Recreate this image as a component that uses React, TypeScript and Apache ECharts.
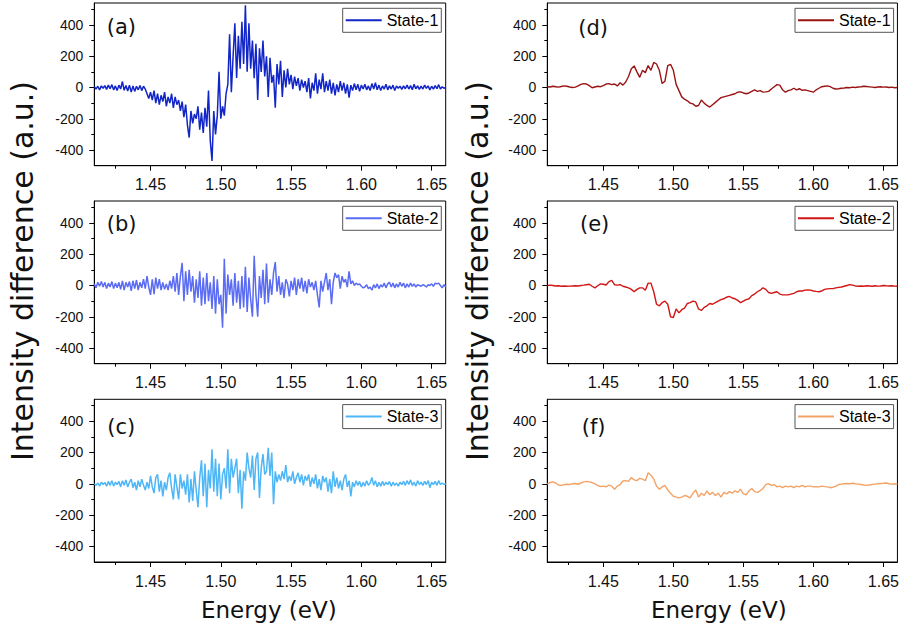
import React, { useEffect, useRef } from "react";
import * as echarts from "echarts";

const E_START = 1.41;
const E_END = 1.66;
const NOISY_STEP = 0.00125;
const SMOOTH_STEP = 0.002;

const xMajor = [1.45, 1.5, 1.55, 1.6, 1.65];
const xMinor = [1.425, 1.475, 1.525, 1.575, 1.625];
const yMajor = [-400, -200, 0, 200, 400];
const yMinor = [-300, -100, 100, 300, 500];

const panelLabels = ["(a)", "(b)", "(c)", "(d)", "(e)", "(f)"];
const legendNames = ["State-1", "State-2", "State-3", "State-1", "State-2", "State-3"];

// Left column: state spectra (noisy)
const stateA = [
  5, -10, 8, -15, 10, -5, 12, -12, 15, -8,
  18, -15, 10, -20, 15, -10, 38, -18, 12, -22,
  15, -30, 10, -25, 8, -15, 12, -20, 8, -10,
  -40, -70, -30, -80, -20, -100, -40, -110, -50, -90,
  -30, -120, -60, -100, -40, -130, -60, -110, -80, -150,
  -90, -190, -110, -240, -320, -150, -230, -170, -200, -120,
  -270, -160, -290, -130, -250, -20, -340, -470, -150, -300,
  -180, 100, -200, -120, -180, -40, 20, 340, -30, 200,
  410, 60, 330, 120, 420, 150, 525, 100, 410, 120,
  300, 60, 280, -80, 250, 100, 300, 70, 200, -60,
  190, 30, 80, -130, 150, 20, 170, -60, 110, 0,
  120, 20, 80, -10, 70, 10, 60, -20, 50, 0,
  40, -30, 60, -70, 30, -20, 90, -40, 50, -10,
  90, -30, 40, -20, 50, -40, 30, -50, 20, -30,
  40, -20, 30, -40, 20, -65, 15, -20, 25, -15,
  20, -25, 15, -10, 20, -15, 10, -20, 25, -10,
  30, -15, 15, -20, 10, -10, 20, -15, 10, -10,
  15, -20, 10, -5, 8, -12, 10, -8, 15, -10,
  12, -15, 20, -8, 10, -12, 8, -10, 15, -5,
  10, -15, 8, -10, 12, -8, 18, -10, 5, -5,
  0,
];

const stateB = [
  10, -15, 20, -5, 25, -10, 20, -20, 15, -10,
  25, -20, 15, -15, 20, -25, 30, -30, 20, -10,
  25, -35, 30, -20, 35, -30, 20, -15, 40, -20,
  60, -10, -60, 40, -55, 50, -20, 40, -30, 20,
  -25, 10, -30, 30, -20, 60, -40, 80, -60, 60,
  145, -100, 90, -60, 100, -40, 60, -110, 40, -80,
  90, -130, 50, -120, 80, -100, 20, -150, 60, -180,
  40, -120, -60, -270, 170, -180, 70, -60, 40, -130,
  80, -110, 30, -150, 60, -140, 120, -170, 50, -90,
  -200, 190, -60, -200, 60, -80, 100, -120, 140, -110,
  40, -60, 80, 150, -40, 60, -60, 20, -80, 40,
  10, -70, 30, -30, 50, -60, 40, -20, 50, -40,
  30, -50, 40, -10, 20, -30, 30, -60, -140, 30,
  -40, 20, 80, -30, 40, -120, 20, 80, 50, 70,
  -20, 60, 20, 40, -10, 90, 10, 30, 0, 15,
  5, 10, -5, -15, -10, 5, -20, -10, -30, 5,
  -15, 10, -20, 5, -10, 15, -15, 10, 20, -10,
  15, -15, 10, -10, 20, -5, 15, -15, 10, -10,
  15, -5, 10, -10, 5, 0, -5, 5, 0, -10,
  5, 0, 10, -5, 15, 10, 15, 0, -15, 5,
  -10,
];

const stateC = [
  0, -10, 5, -15, 10, -5, 8, -15, 15, -10,
  20, -15, 10, -5, 15, -20, 20, -10, 25, -20,
  10, 30, -25, 10, -40, 20, -20, 30, -10, -40,
  10, -30, 50, -20, -60, 40, 60, -50, 20, -80,
  10, -40, 40, 70, -30, -100, 60, -20, -100, 60,
  -30, 20, -70, 60, -120, 30, -110, 80, -40, -150,
  40, 150, -80, 130, -150, 90, -30, 220, -50, 160,
  -80, 130, -100, 60, 100, -30, 220, -60, 160, 40,
  100, 160, -60, 90, -160, 80, 20, 200, 100, 40,
  180, -40, 160, 200, -90, 100, 190, 60, 80, 230,
  50, 200, -130, 80, 10, 60, 20, 80, 30, 120,
  10, 50, 20, 80, 0, 40, 70, 10, 60, -10,
  50, 20, 60, -20, 40, 0, 60, -30, 30, -40,
  50, 10, 40, -50, 30, -60, 80, -20, 40, -30,
  20, -40, 30, 60, -20, 20, -80, 10, -20, 20,
  -10, 15, -20, 10, -15, 20, -10, 5, 40, -10,
  20, -20, 10, -15, 15, -10, 10, -5, 15, -15,
  10, -10, 5, -15, 10, -5, 15, -10, 20, -5,
  25, -10, 10, -15, 20, -5, 10, -10, 15, -5,
  20, -25, 10, -5, 15, -10, 20, -5, 5, -5,
  0,
];

// Right column: smoother spectra
const stateD = [
  5, 3, 8, 5, 2, 6, 10, 8, 3, 0,
  2, 10, 20, 25, 22, 12, -2, 3, 8, 5,
  12, 22, 25, 18, 22, 10, 30, 15, 35, 70,
  120, 138, 100, 65, 110, 95, 140, 110, 160, 150,
  110, 25, 40, 140, 148, 110, 20, -20, -60, -75,
  -85, -100, -105, -120, -115, -80, -100, -115, -125, -110,
  -95, -80, -65, -60, -55, -50, -45, -40, -30, -28,
  -35, -40, -35, -25, -15, -25, -20, -30, -28, -25,
  -10, 5, 18, 15, -15, -30, -20, -15, -5, -15,
  -8, -18, -15, -20, -25, -30, -15, -5, 5, 8,
  10, 5, -5, -10, -8, -5, -3, 0, -2, 2,
  0, 3, 5, 8, 6, 4, 2, 0, 3, 5,
  2, 3, 0, 2, -2, 0,
];

const stateE = [
  0, 2, 0, -3, -2, -5, -3, -5, -4, -3,
  -2, -3, 0, 2, 5, 8, -5, -15, -2, 10,
  8, 3, 25, 32, 5, 2, 5, -5, -10, -15,
  -25, -40, -25, -15, -15, -30, 15, 15, -40, -120,
  -130, -110, -100, -120, -200, -205, -150, -175, -155, -145,
  -115, -110, -100, -105, -150, -160, -140, -130, -115, -120,
  -110, -100, -90, -85, -75, -70, -80, -85, -95, -110,
  -100, -90, -85, -65, -55, -40, -30, -15, -25, -45,
  -50, -45, -40, -55, -60, -60, -60, -55, -50, -40,
  -35, -35, -30, -28, -30, -35, -38, -40, -35, -25,
  -22, -20, -20, -15, -12, -10, -5, 0, 5, 2,
  -3, -5, -3, -5, -2, -3, -5, -2, -4, -3,
  0, -2, -3, -2, -4, -5,
];

const stateF = [
  0, 8, 12, 5, -8, -10, -5, -3, -5, 0,
  2, -3, 5, 12, 15, 12, 8, 0, -10, -18,
  -15, -20, -8, -15, -35, -15, -5, 18, 20, 15,
  40, 25, 20, 35, 30, 20, 70, 55, 30, -15,
  -35, -20, -10, -40, -60, -80, -85, -90, -85, -75,
  -80, -90, -60, -40, -85, -60, -75, -45, -70, -55,
  -75, -60, -85, -55, -65, -50, -60, -45, -55, -35,
  -65, -70, -45, -30, -50, -55, -45, -30, -5, 0,
  -10, -5, -20, -15, -25, -15, -20, -15, -25, -15,
  -20, -10, -20, -15, -15, -20, -18, -20, -15, -18,
  -20, -25, -22, -15, -5, -2, 0, 2, 0, 3,
  0, -2, -5, -8, -10, -8, -5, -2, 0, 2,
  3, 5, 0, -2, 0, -2,
];

const seriesValues = [stateA, stateB, stateC, stateD, stateE, stateF];
const seriesSteps = [NOISY_STEP, NOISY_STEP, NOISY_STEP, SMOOTH_STEP, SMOOTH_STEP, SMOOTH_STEP];
const colors = ["#1226C8", "#5A6BF4", "#4DB6F7", "#9A1414", "#D21515", "#F3A366"];

const TICK_FONT = "'Liberation Sans', Arial, sans-serif";
const TITLE_FONT = "'DejaVu Sans', Verdana, sans-serif";

export default function App() {
  const ref = useRef<HTMLDivElement>(null);

  useEffect(() => {
    if (!ref.current) return;
    const chart = echarts.init(ref.current, null, { renderer: "svg" });

    const colLeft = [94.3, 547.3];
    const colWidth = [351.4, 350.4];
    const rowTop = [3, 201, 399.3];
    const gridH = 162.7;
    const labelPos = [
      [106.7, 27], [106.7, 224], [107.3, 427],
      [578.3, 27.5], [580, 224], [581.7, 427],
    ];

    const grids: any[] = [];
    const xAxes: any[] = [];
    const yAxes: any[] = [];
    const series: any[] = [];
    const legends: any[] = [];
    const graphics: any[] = [];

    const axisLineStyle = { color: "#000", width: 1 };

    for (let p = 0; p < 6; p++) {
      const col = p < 3 ? 0 : 1;
      const row = p % 3;
      grids.push({
        left: colLeft[col],
        top: rowTop[row],
        width: colWidth[col],
        height: gridH,
        show: true,
        borderColor: "#000",
        borderWidth: 1,
        backgroundColor: "transparent",
      });
      xAxes.push({
        gridIndex: p,
        type: "value",
        min: E_START,
        max: E_END,
        position: "bottom",
        axisLine: { show: true, onZero: false, lineStyle: axisLineStyle },
        axisTick: { show: true, inside: false, length: 5, customValues: xMajor, lineStyle: axisLineStyle },
        axisLabel: {
          show: true,
          customValues: xMajor,
          formatter: (v: number) => v.toFixed(2),
          fontSize: 16,
          fontFamily: TICK_FONT,
          color: "#111",
          margin: 11,
        },
        splitLine: { show: false },
      });
      xAxes.push({
        gridIndex: p,
        type: "value",
        min: E_START,
        max: E_END,
        position: "bottom",
        axisLine: { show: false, onZero: false },
        axisTick: { show: true, inside: false, length: 3, customValues: xMinor, lineStyle: axisLineStyle },
        axisLabel: { show: false },
        splitLine: { show: false },
      });
      yAxes.push({
        gridIndex: p,
        type: "value",
        min: -500,
        max: 540,
        position: "left",
        axisLine: { show: true, onZero: false, lineStyle: axisLineStyle },
        axisTick: { show: true, inside: false, length: 5, customValues: yMajor, lineStyle: axisLineStyle },
        axisLabel: {
          show: true,
          customValues: yMajor,
          fontSize: 14,
          fontFamily: TICK_FONT,
          color: "#111",
          margin: 11,
        },
        splitLine: { show: false },
      });
      yAxes.push({
        gridIndex: p,
        type: "value",
        min: -500,
        max: 540,
        position: "left",
        axisLine: { show: false, onZero: false },
        axisTick: { show: true, inside: false, length: 3, customValues: yMinor, lineStyle: axisLineStyle },
        axisLabel: { show: false },
        splitLine: { show: false },
      });

      const vals = seriesValues[p];
      const step = seriesSteps[p];
      const data = vals.map((v, i) => [E_START + i * step, v]);
      const name = "s" + p;
      series.push({
        type: "line",
        name,
        xAxisIndex: 2 * p,
        yAxisIndex: 2 * p,
        data,
        symbol: "none",
        showSymbol: false,
        clip: true,
        lineStyle: { color: colors[p], width: p < 3 ? 1.5 : 1.4 },
        itemStyle: { color: colors[p] },
        emphasis: { disabled: true },
      });

      legends.push({
        show: true,
        data: [{ name, icon: "rect" }],
        left: col === 0 ? 342.7 : 795,
        top: rowTop[row] + 5.3,
        orient: "horizontal",
        formatter: () => legendNames[p],
        itemWidth: 36,
        itemHeight: 2,
        padding: [3, 3],
        borderColor: "#555",
        borderWidth: 1,
        backgroundColor: "#fff",
        selectedMode: false,
        itemStyle: { color: colors[p], borderWidth: 0 },
        textStyle: { fontSize: 16, fontFamily: TICK_FONT, color: "#000", lineHeight: 18 },
      });

      graphics.push({
        type: "text",
        x: labelPos[p][0],
        y: labelPos[p][1],
        style: {
          text: panelLabels[p],
          fontSize: 21,
          fontFamily: TITLE_FONT,
          fill: "#111",
          align: "left",
          verticalAlign: "middle",
          textAlign: "left",
          textVerticalAlign: "middle",
        },
      });
    }

    const yTitle = "Intensity difference (a.u.)";
    [22.5, 477.8].forEach((x) => {
      graphics.push({
        type: "text",
        x,
        y: 271,
        rotation: Math.PI / 2,
        style: {
          text: yTitle,
          fontSize: 30,
          fontFamily: TITLE_FONT,
          fill: "#111",
          align: "center",
          verticalAlign: "middle",
          textAlign: "center",
          textVerticalAlign: "middle",
        },
      });
    });
    [268.8, 718.8].forEach((x) => {
      graphics.push({
        type: "text",
        x,
        y: 610,
        style: {
          text: "Energy (eV)",
          fontSize: 23,
          fontFamily: TITLE_FONT,
          fill: "#111",
          align: "center",
          verticalAlign: "middle",
          textAlign: "center",
          textVerticalAlign: "middle",
        },
      });
    });

    chart.setOption({
      animation: false,
      backgroundColor: "#fff",
      grid: grids,
      xAxis: xAxes,
      yAxis: yAxes,
      series,
      legend: legends,
      graphic: { elements: graphics },
    });

    return () => {
      chart.dispose();
    };
  }, []);

  return (
    <div
      ref={ref}
      style={{ position: "fixed", left: 0, top: 0, width: 902, height: 629, background: "#fff" }}
    />
  );
}
